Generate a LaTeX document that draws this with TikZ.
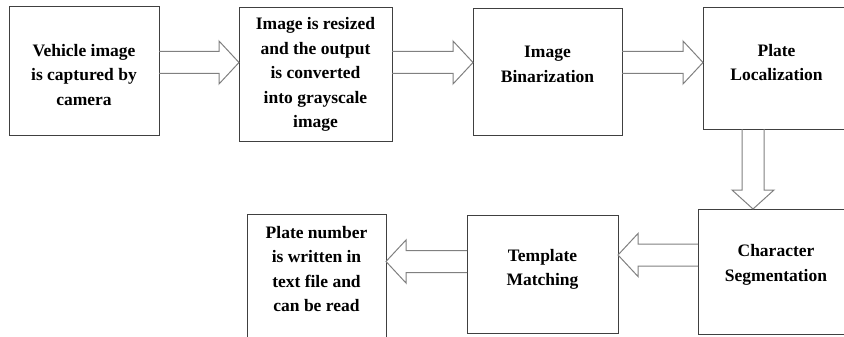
\documentclass[tikz,border=0pt]{standalone}
\usepackage{fontspec}
\setmainfont{Liberation Serif}
\usetikzlibrary{calc}
\definecolor{boxline}{rgb}{0.25,0.25,0.25}
\definecolor{arrline}{rgb}{0.5,0.5,0.5}

% hollow block arrows: from node, to node, level coordinate
\newcommand{\rarr}[3]{%
  \coordinate (s) at (#1.east |- #3);
  \coordinate (t) at (#2.west |- #3);
  \draw[blk] ($(s)+(0,-11)$) -- ($(t)+(-20,-11)$) -- ($(t)+(-20,-21.5)$) -- (t)
    -- ($(t)+(-20,21.5)$) -- ($(t)+(-20,11)$) -- ($(s)+(0,11)$);
}
\newcommand{\larr}[3]{%
  \coordinate (s) at (#1.west |- #3);
  \coordinate (t) at (#2.east |- #3);
  \draw[blk] ($(s)+(0,-11)$) -- ($(t)+(20,-11)$) -- ($(t)+(20,-21.5)$) -- (t)
    -- ($(t)+(20,21.5)$) -- ($(t)+(20,11)$) -- ($(s)+(0,11)$);
}
\newcommand{\darr}[3]{%
  \coordinate (s) at (#1.south -| #3);
  \coordinate (t) at (#2.north -| #3);
  \draw[blk] ($(s)+(-11,0)$) -- ($(t)+(-11,-19)$) -- ($(t)+(-21,-19)$) -- (t)
    -- ($(t)+(21,-19)$) -- ($(t)+(11,-19)$) -- ($(s)+(11,0)$);
}

\begin{document}
\begin{tikzpicture}[x=1pt,y=-1pt,
  box/.style={draw=boxline,line width=1pt,outer sep=0pt,inner sep=0pt},
  txt/.style={align=center,font=\bfseries\fontsize{17.5}{24.5}\selectfont},
  blk/.style={draw=arrline,line width=1pt,line join=miter}]
\useasboundingbox (0,0) rectangle (844,337);
\clip (0,0) rectangle (844,337);

% levels for the arrows
\coordinate (rowA) at (0,62.5);
\coordinate (rowB) at (0,255);
\coordinate (rowC) at (0,261.5);
\coordinate (colD) at (753,0);

% top row
\node[box,minimum width=150pt,minimum height=128pt,
  label={[txt,yshift=-4pt]center:Vehicle image\\is captured by\\camera}] (veh) at (84,71) {};
\node[box,minimum width=153pt,minimum height=133pt,
  label={[txt]center:Image is resized\\and the output\\is converted\\into grayscale\\image}] (gray) at (315.5,74.5) {};
\node[box,minimum width=149pt,minimum height=126pt,
  label={[txt,yshift=7.5pt]center:Image\\Binarization}] (bin) at (547.5,72) {};
\node[box,minimum width=147pt,minimum height=121pt,
  label={[txt,yshift=6pt]center:Plate\\Localization}] (loc) at (776.5,68.5) {};

% bottom row
\node[box,minimum width=156pt,minimum height=125pt,
  label={[txt,yshift=6.5pt]center:Character\\Segmentation}] (seg) at (776,271.5) {};
\node[box,minimum width=151pt,minimum height=118pt,
  label={[txt,yshift=4.5pt]center:Template\\Matching}] (tmp) at (542.5,274) {};
\node[box,minimum width=139pt,minimum height=131pt,
  label={[txt,yshift=10.5pt]center:Plate number\\is written in\\text file and\\can be read}] (out) at (316.5,279.5) {};

\rarr{veh}{gray}{rowA}
\rarr{gray}{bin}{rowA}
\rarr{bin}{loc}{rowA}
\darr{loc}{seg}{colD}
\larr{seg}{tmp}{rowB}
\larr{tmp}{out}{rowC}
\end{tikzpicture}
\end{document}
